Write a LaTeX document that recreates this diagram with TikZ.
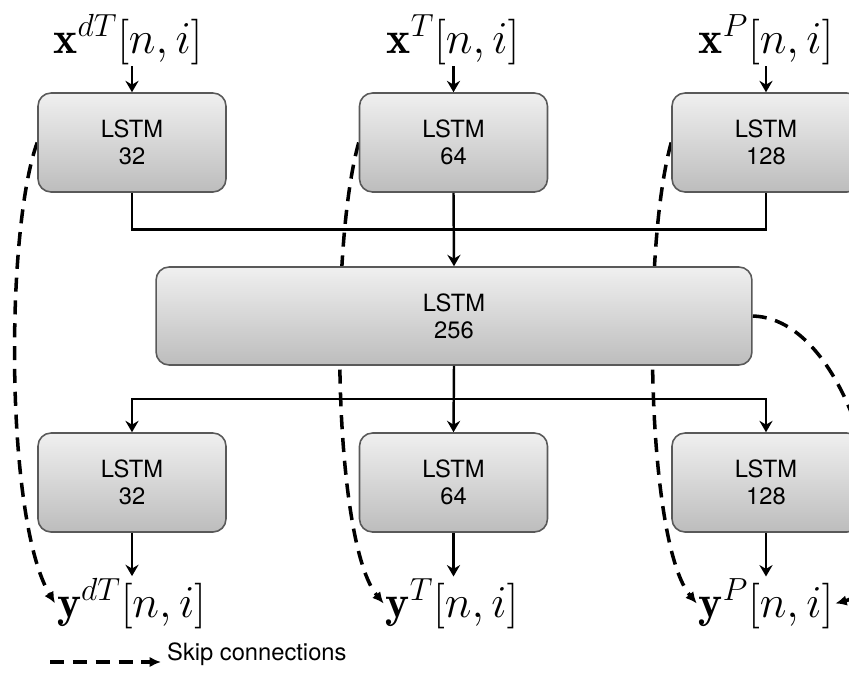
\RequirePackage{fix-cm}
\documentclass[tikz,border=0pt]{standalone}
\usepackage{amsmath}
\usepackage{fontspec}
\newfontfamily\heros{TeX Gyre Heros}
\usetikzlibrary{calc, backgrounds, arrows.meta}

\begin{document}
\begin{tikzpicture}[x=0.02cm, y=-0.02cm,
lstm/.style={draw=black!65, line width=0.9pt, rounded corners=0.26cm, top color=black!6, bottom color=black!26, minimum width=3.76cm, minimum height=1.98cm, align=center, font=\heros\fontsize{13.5}{15.3}\selectfont},
sig/.style={inner sep=1pt, anchor=base, font=\fontsize{26}{30}\selectfont},
conn/.style={line width=1.4pt, -{Stealth[length=6.5pt, width=7.5pt, inset=2.2pt]}},
skip/.style={line width=2pt, dash pattern=on 8pt off 5pt, -{Latex[length=6.5pt, width=6pt]}}]
\useasboundingbox (0,0) rectangle (849,674);

% inputs and first layer
\node[sig] (xdt) at (128,53) {$\mathbf{x}^{dT}[n,i]$};
\node[sig] (xt) at (453,53) {$\mathbf{x}^{T}[n,i]$};
\node[sig] (xp) at (766,53) {$\mathbf{x}^{P}[n,i]$};
\node[lstm] (b1) at (132,142.5) {LSTM\\32};
\node[lstm] (b2) at (453.5,142.5) {LSTM\\64};
\node[lstm] (b3) at (766,142.5) {LSTM\\128};

% shared layer
\node[lstm, minimum width=11.92cm, minimum height=1.96cm] (m) at (454,316) {LSTM\\256};

% output layer
\node[lstm] (c1) at (132,482.5) {LSTM\\32};
\node[lstm] (c2) at (453.5,482.5) {LSTM\\64};
\node[lstm] (c3) at (766,482.5) {LSTM\\128};
\node[sig] (ydt) at (131.5,617) {$\mathbf{y}^{dT}[n,i]$};
\node[sig] (yt) at (452,617) {$\mathbf{y}^{T}[n,i]$};
\node[sig] (yp) at (766,617) {$\mathbf{y}^{P}[n,i]$};

\draw[conn] (xdt.south -| b1.north) -- (b1.north);
\draw[conn] (xt.south -| b2.north) -- (b2.north);
\draw[conn] (xp.south -| b3.north) -- (b3.north);

\coordinate (jt) at ($(b2.south)!0.5!(m.north)$);
\draw[line width=1.4pt] (b1.south) |- (jt) -| (b3.south);
\draw[conn] (b2.south) -- (m.north);

\coordinate (jb) at ($(m.south)!0.5!(c2.north)$);
\draw[conn] (m.south) -- (c2.north);
\draw[conn] (jb) -| (c1.north);
\draw[conn] (jb) -| (c3.north);

\draw[conn] (c1.south) -- (c1.south |- ydt.north);
\draw[conn] (c2.south) -- (c2.south |- yt.north);
\draw[conn] (c3.south) -- (c3.south |- yp.north);

% skip connections
\begin{scope}[on background layer]
\draw[skip] (b1.west) .. controls +(-32,88) and +(-50,-83) .. (ydt.west);
\draw[skip] (b2.west) .. controls +(-30,108) and +(-50,-60) .. (yt.west);
\draw[skip] (b3.west) .. controls +(-30,108) and +(-50,-60) .. (yp.west);
\draw[skip] (m.east) .. controls +(108,3) and +(77,-20) .. (yp.east);
\end{scope}

% legend
\coordinate (lg) at (50,662);
\node[font=\heros\fontsize{13.5}{15.3}\selectfont, anchor=base west] (lgtxt) at (161,660) {Skip connections};
\draw[skip] (lg) -- (lg -| lgtxt.west);
\end{tikzpicture}
\end{document}
